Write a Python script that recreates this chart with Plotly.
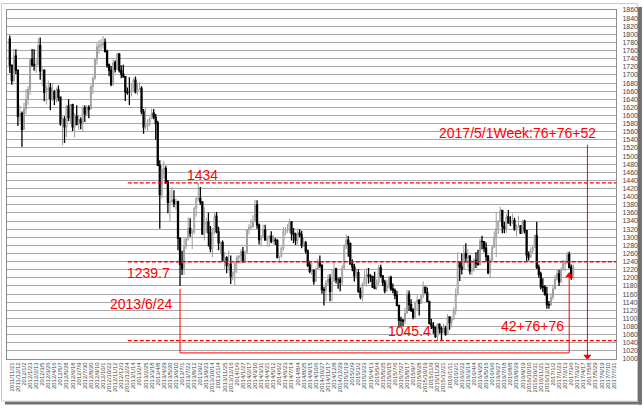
import pandas as pd
import plotly.graph_objects as go

# ---------------- data (weekly OHLC) ----------------
OPEN = [1788,1724,1686,1746,1712,1598,1605,1566,1616,1639,
        1665,1738,1725,1724,1725,1772,1710,1711,1657,1662,
        1668,1641,1659,1642,1663,1645,1580,1591,1572,1623,
        1595,1627,1572,1598,1578,1590,1582,1619,1604,1620,
        1616,1671,1692,1738,1769,1773,1774,1780,1758,1724,
        1712,1677,1730,1714,1751,1711,1702,1696,1658,1657,
        1657,1662,1687,1658,1667,1667,1609,1572,1576,1579,
        1592,1606,1596,1581,1477,1405,1467,1469,1436,1386,
        1387,1392,1383,1388,1297,1234,1223,1277,1296,1322,
        1310,1313,1371,1395,1396,1387,1308,1333,1338,1311,
        1272,1315,1352,1314,1286,1287,1244,1250,1230,1234,
        1204,1214,1237,1250,1254,1264,1240,1262,1318,1324,
        1326,1338,1379,1330,1294,1303,1318,1293,1301,1302,
        1290,1293,1292,1250,1253,1274,1315,1316,1320,1338,
        1310,1307,1293,1310,1306,1280,1287,1266,1231,1216,
        1218,1192,1222,1238,1231,1171,1169,1188,1197,1167,
        1191,1222,1195,1195,1189,1224,1277,1293,1284,1234,
        1227,1205,1213,1167,1153,1184,1199,1207,1204,1203,
        1178,1174,1189,1225,1205,1189,1168,1180,1201,1173,
        1169,1157,1132,1096,1095,1093,1113,1160,1134,1121,
        1103,1139,1145,1137,1156,1177,1163,1142,1088,1081,
        1077,1056,1085,1075,1065,1076,1061,1104,1090,1098,
        1118,1158,1239,1227,1221,1260,1249,1254,1217,1223,
        1243,1235,1232,1290,1289,1273,1253,1213,1243,1275,
        1298,1322,1339,1366,1327,1322,1350,1335,1335,1341,
        1321,1326,1328,1310,1339,1316,1257,1251,1267,1275,
        1304,1226,1209,1178,1177,1160,1134,1133,1152,1173,
        1197,1210,1190,1220,1234,1238,1257,1226,1201]
HIGH = [1797,1726,1764,1763,1712,1625,1610,1632,1665,1673,
        1742,1764,1763,1738,1790,1792,1719,1714,1674,1686,
        1680,1680,1663,1669,1674,1646,1597,1598,1626,1640,
        1628,1629,1605,1625,1600,1596,1625,1625,1625,1625,
        1676,1696,1740,1778,1786,1788,1796,1790,1762,1728,
        1722,1738,1736,1755,1754,1724,1725,1697,1669,1694,
        1679,1693,1696,1681,1683,1672,1616,1619,1591,1597,
        1617,1616,1604,1587,1490,1477,1488,1476,1441,1416,
        1424,1416,1396,1390,1300,1267,1297,1298,1349,1347,
        1319,1375,1400,1434,1424,1387,1374,1348,1361,1328,
        1323,1361,1362,1326,1290,1292,1264,1253,1267,1255,
        1216,1240,1255,1256,1270,1276,1268,1320,1332,1345,
        1354,1392,1391,1334,1305,1331,1331,1301,1306,1315,
        1306,1299,1295,1255,1277,1325,1325,1332,1346,1340,
        1323,1311,1322,1320,1316,1298,1291,1270,1242,1239,
        1221,1226,1247,1255,1233,1178,1195,1208,1209,1222,
        1238,1225,1200,1202,1232,1283,1307,1303,1287,1245,
        1235,1223,1221,1176,1189,1219,1224,1224,1209,1205,
        1215,1196,1232,1232,1207,1195,1194,1205,1205,1186,
        1174,1168,1133,1104,1099,1126,1170,1169,1147,1125,
        1142,1157,1147,1160,1191,1178,1176,1143,1099,1091,
        1080,1088,1088,1080,1087,1082,1111,1105,1103,1127,
        1174,1263,1240,1260,1280,1285,1271,1254,1244,1248,
        1263,1269,1297,1304,1290,1287,1256,1247,1280,1315,
        1362,1342,1375,1366,1338,1357,1367,1352,1358,1348,
        1331,1353,1330,1343,1343,1318,1265,1275,1280,1307,
        1338,1233,1215,1199,1182,1178,1143,1162,1183,1207,
        1220,1220,1226,1245,1244,1264,1264,1233,1233]
LOW = [1705,1676,1683,1702,1574,1585,1523,1564,1603,1626,
       1651,1720,1710,1705,1724,1688,1672,1635,1627,1641,
       1613,1636,1626,1632,1635,1575,1527,1532,1547,1586,
       1582,1562,1546,1576,1565,1566,1562,1584,1600,1593,
       1615,1653,1687,1725,1752,1759,1765,1755,1718,1697,
       1672,1673,1706,1712,1706,1692,1693,1636,1651,1626,
       1647,1662,1654,1650,1662,1603,1555,1566,1562,1573,
       1592,1591,1540,1476,1321,1396,1445,1431,1359,1338,
       1387,1374,1367,1268,1180,1207,1207,1271,1292,1301,
       1271,1307,1351,1389,1380,1306,1292,1311,1277,1263,
       1251,1308,1310,1268,1260,1240,1221,1211,1218,1185,
       1194,1182,1212,1235,1235,1237,1237,1259,1307,1321,
       1323,1337,1321,1282,1277,1297,1292,1277,1276,1285,
       1283,1281,1250,1240,1250,1268,1305,1310,1310,1292,
       1285,1281,1282,1300,1273,1276,1260,1227,1211,1207,
       1183,1190,1220,1224,1161,1132,1143,1180,1142,1142,
       1190,1186,1173,1167,1180,1222,1271,1252,1232,1216,
       1191,1197,1163,1147,1142,1180,1178,1186,1190,1175,
       1172,1170,1183,1200,1180,1162,1166,1175,1168,1162,
       1147,1130,1077,1080,1081,1086,1111,1118,1116,1098,
       1100,1118,1107,1136,1150,1162,1140,1085,1074,1062,
       1052,1046,1063,1045,1065,1057,1061,1072,1078,1097,
       1109,1157,1192,1208,1221,1238,1225,1208,1206,1215,
       1224,1233,1232,1270,1263,1240,1209,1199,1240,1275,
       1251,1308,1337,1310,1310,1311,1336,1328,1332,1316,
       1302,1324,1308,1310,1309,1241,1243,1250,1260,1275,
       1222,1201,1171,1165,1156,1124,1124,1131,1146,1171,
       1194,1180,1188,1218,1216,1233,1223,1195,1196]
CLOSE = [1724,1686,1746,1712,1598,1605,1566,1616,1639,1665,
         1738,1725,1724,1725,1772,1710,1711,1657,1662,1668,
         1641,1659,1642,1663,1645,1580,1591,1572,1623,1595,
         1627,1572,1598,1578,1590,1582,1619,1604,1620,1616,
         1671,1692,1738,1769,1773,1774,1780,1758,1724,1712,
         1677,1730,1714,1751,1711,1702,1696,1658,1657,1657,
         1662,1687,1658,1667,1667,1609,1572,1576,1579,1592,
         1606,1596,1581,1477,1405,1467,1469,1436,1386,1387,
         1392,1383,1388,1297,1234,1223,1277,1296,1322,1310,
         1313,1371,1395,1396,1387,1308,1333,1338,1311,1272,
         1315,1352,1314,1286,1287,1244,1250,1230,1234,1204,
         1214,1237,1250,1254,1264,1240,1262,1318,1324,1326,
         1338,1379,1330,1294,1303,1318,1293,1301,1302,1290,
         1293,1292,1250,1253,1274,1315,1316,1320,1338,1310,
         1307,1293,1310,1306,1280,1287,1266,1231,1216,1218,
         1192,1222,1238,1231,1171,1169,1188,1197,1167,1191,
         1222,1195,1195,1189,1224,1277,1293,1284,1234,1227,
         1205,1213,1167,1153,1184,1199,1207,1204,1203,1178,
         1174,1189,1225,1205,1189,1168,1180,1201,1173,1169,
         1157,1132,1096,1095,1093,1113,1160,1134,1121,1103,
         1139,1145,1137,1156,1177,1163,1142,1088,1081,1077,
         1056,1085,1075,1065,1076,1061,1104,1090,1098,1118,
         1158,1239,1227,1221,1260,1249,1254,1217,1223,1243,
         1235,1232,1290,1289,1273,1253,1213,1243,1275,1298,
         1322,1339,1366,1327,1322,1350,1335,1335,1341,1321,
         1326,1328,1310,1339,1316,1257,1251,1267,1275,1304,
         1226,1209,1178,1177,1160,1134,1133,1152,1173,1197,
         1210,1190,1220,1234,1238,1257,1226,1201,1229]

TICK_LABELS = [
 "2011/11/21","2011/12/12","2012/1/2","2012/1/23","2012/2/13","2012/3/5","2012/3/26","2012/4/16","2012/5/7","2012/5/28",
 "2012/6/18","2012/7/9","2012/7/30","2012/8/20","2012/9/10","2012/10/1","2012/10/22","2012/11/12","2012/12/3","2012/12/24",
 "2013/1/14","2013/2/4","2013/2/25","2013/3/18","2013/4/8","2013/4/29","2013/5/20","2013/6/10","2013/7/1","2013/7/22",
 "2013/8/12","2013/9/2","2013/9/23","2013/10/14","2013/11/4","2013/11/25","2013/12/16","2014/1/6","2014/1/27","2014/2/17",
 "2014/3/10","2014/3/31","2014/4/21","2014/5/12","2014/6/2","2014/6/23","2014/7/14","2014/8/4","2014/8/25","2014/9/15",
 "2014/10/6","2014/10/27","2014/11/17","2014/12/8","2014/12/29","2015/1/19","2015/2/9","2015/3/2","2015/3/23","2015/4/13",
 "2015/5/4","2015/5/25","2015/6/15","2015/7/6","2015/7/27","2015/8/17","2015/9/7","2015/9/28","2015/10/19","2015/11/9",
 "2015/11/30","2015/12/21","2016/1/11","2016/2/1","2016/2/22","2016/3/14","2016/4/4","2016/4/25","2016/5/16","2016/6/6",
 "2016/6/27","2016/7/18","2016/8/8","2016/8/29","2016/9/19","2016/10/10","2016/10/31","2016/11/21","2016/12/12","2017/1/2",
 "2017/1/23","2017/2/13","2017/3/6","2017/3/27","2017/4/17","2017/5/8","2017/5/29","2017/6/19","2017/7/10","2017/7/31"]

LEVELS = [1434, 1239.7, 1045.4]
START_WEEK = "2011-11-14"
END_WEEK = "2017-07-31"
LOW_DATE = "2013-06-24"
ARROW_DATE = "2017-02-27"
TARGET_DATE = "2017-05-01"

# ---------------- figure ----------------
cats = [d.strftime("%Y-%m-%d") for d in pd.date_range(START_WEEK, END_WEEK, freq="7D")]
dates = cats[:len(CLOSE)]

W, H = 644, 408
L, R, T, B = 6, 616, 7, 359

def px(xp):
    return (xp - L) / (R - L)

def py(yp):
    return (B - yp) / (B - T)

RED = "#ff0000"
fig = go.Figure()
fig.add_trace(go.Candlestick(
    x=dates, open=OPEN, high=HIGH, low=LOW, close=CLOSE,
    increasing=dict(line=dict(color="#9c9c9c", width=1), fillcolor="white"),
    decreasing=dict(line=dict(color="black", width=1.3), fillcolor="black"),
    whiskerwidth=0, showlegend=False, hoverinfo="skip"))

i_low = cats.index(LOW_DATE)
i_arr = cats.index(ARROW_DATE)
i_tgt = cats.index(TARGET_DATE)

# L-shaped count line and target line
fig.add_trace(go.Scatter(x=[LOW_DATE, LOW_DATE, ARROW_DATE, ARROW_DATE],
                         y=[1173, 1015, 1015, 1203], mode="lines",
                         line=dict(color=RED, width=1), showlegend=False, hoverinfo="skip"))
fig.add_trace(go.Scatter(x=[ARROW_DATE], y=[1206], mode="markers",
                         marker=dict(symbol="triangle-up", size=7, color=RED),
                         showlegend=False, hoverinfo="skip"))
fig.add_trace(go.Scatter(x=[TARGET_DATE, TARGET_DATE], y=[1528, 1008], mode="lines",
                         line=dict(color=RED, width=1), showlegend=False, hoverinfo="skip"))
fig.add_trace(go.Scatter(x=[TARGET_DATE], y=[1006], mode="markers",
                         marker=dict(symbol="triangle-down", size=7, color=RED),
                         showlegend=False, hoverinfo="skip"))

shapes = []
for lv in LEVELS:
    shapes.append(dict(type="line", xref="paper", yref="y", x0=px(127), x1=1,
                       y0=lv, y1=lv, line=dict(color=RED, width=1.3, dash="4px,2px")))
# outer frame + shadow
shapes.append(dict(type="rect", xref="paper", yref="paper", x0=px(0.5), x1=px(637.5),
                   y0=py(401.5), y1=py(0.5), line=dict(color="#c8c8c8", width=1),
                   fillcolor="rgba(0,0,0,0)", layer="below"))
shapes.append(dict(type="rect", xref="paper", yref="paper", x0=px(638), x1=px(642),
                   y0=py(405), y1=py(4), line=dict(width=0), fillcolor="#707070"))
shapes.append(dict(type="rect", xref="paper", yref="paper", x0=px(4), x1=px(642),
                   y0=py(405), y1=py(402), line=dict(width=0), fillcolor="#707070"))

ann_font = dict(family="Liberation Sans, Arial", size=14, color=RED)
texts = [("1434", 202, 173), ("1239.7", 148, 272), ("2013/6/24", 140, 304),
         ("1045.4", 409, 331), ("42+76+76", 532, 326),
         ("2017/5/1Week:76+76+52", 517, 131)]
annotations = [dict(text=t, x=px(xp), y=py(yp), xref="paper", yref="paper",
                    showarrow=False, font=ann_font, xanchor="center", yanchor="middle")
               for t, xp, yp in texts]

fig.update_layout(
    width=W, height=H, margin=dict(l=L, r=W - R, t=T, b=H - B),
    paper_bgcolor="white", plot_bgcolor="white",
    shapes=shapes, annotations=annotations,
    xaxis=dict(type="category", categoryorder="array", categoryarray=cats,
               range=[-1.38, 299.1], rangeslider=dict(visible=False),
               tickmode="array", tickvals=cats[1::3], ticktext=TICK_LABELS,
               tickangle=-90, tickfont=dict(family="Liberation Sans, Arial", size=6, color="#444"),
               showgrid=False, showline=True, linecolor="#8c8c8c", linewidth=1, mirror=True,
               ticks="", fixedrange=True),
    yaxis=dict(range=[1000, 1860], tickmode="linear", tick0=1000, dtick=20, side="right",
               tickfont=dict(family="Liberation Sans, Arial", size=7, color="#444"),
               showgrid=True, gridcolor="#a8a8a8", gridwidth=1, zeroline=False,
               showline=True, linecolor="#8c8c8c", linewidth=1, mirror=True,
               ticks="", ticklabelstandoff=4),
)

fig.write_html("out.html")
